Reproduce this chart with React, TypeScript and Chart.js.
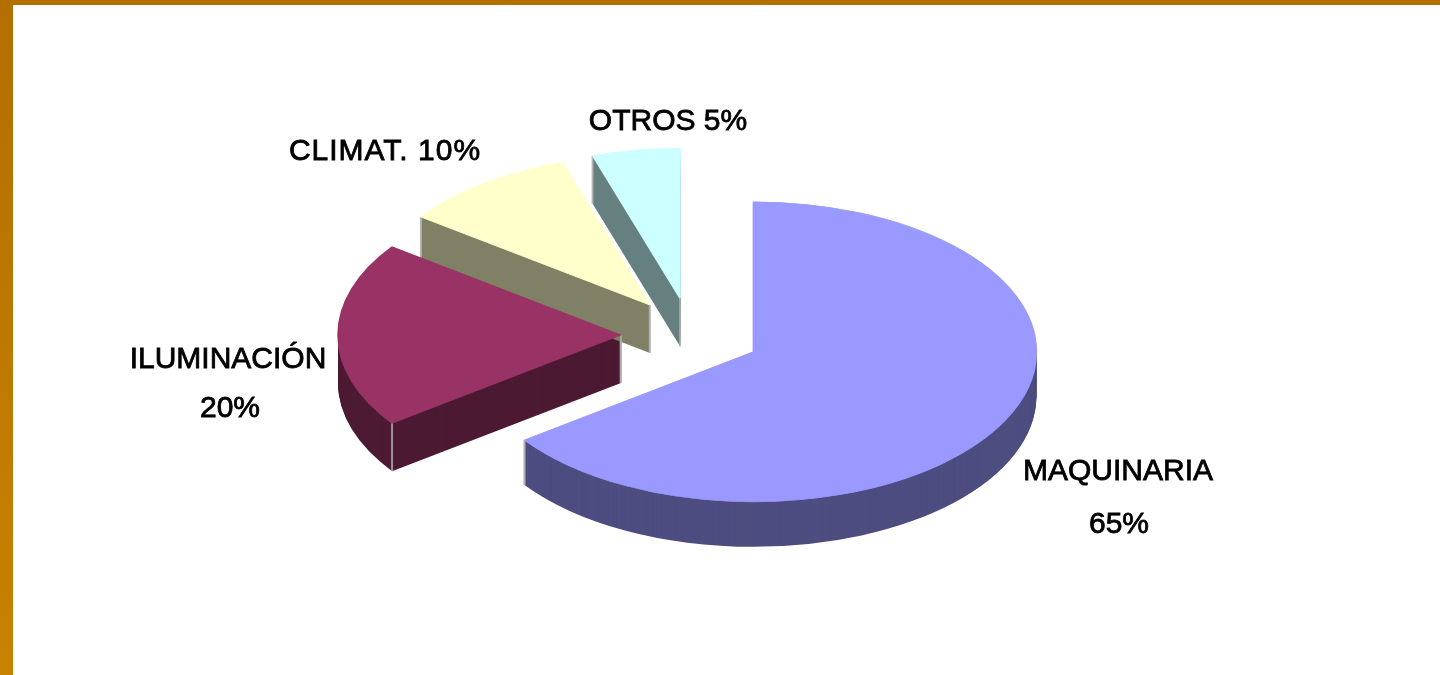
import React, { useEffect, useRef } from "react";
import { Chart, registerables, PieController } from "chart.js";

Chart.register(...registerables);

// Data
const categories = ["MAQUINARIA", "ILUMINACIÓN", "CLIMAT.", "OTROS"];
const shares = [65, 20, 10, 5];
const topColors = ["#9999ff", "#993366", "#ffffcc", "#ccffff"];
const sideColors = ["#4d4d80", "#4d1a33", "#808066", "#668080"];

// Label layout: one entry per category, [text lines] and the centre of each line
const labelLines = [
  ["MAQUINARIA", "65%"],
  ["ILUMINACIÓN", "20%"],
  ["CLIMAT. 10%"],
  ["OTROS 5%"],
];
const labelCentres = [
  [[1118, 472], [1119, 525]],
  [[228, 360], [230, 409]],
  [[385, 152]],
  [[668, 122]],
];
const labelTracking = ["0px", "0px", "1px", "0px"];

// 3D look
const TILT = 0.53;
const sliceDepths = [45, 48, 48, 48];
const EXPLODE = 70;
const RADIUS = 283;
const EDGE = "rgba(170,170,170,0.85)";

class ExplodedPie extends PieController {
  static id = "explodedPie";
  draw() {
    const chart = this.chart;
    const ctx = chart.ctx;
    const arcs = this._cachedMeta.data as any[];
    const place = (arc: any, drop: number) => {
      const mid = (arc.startAngle + arc.endAngle) / 2;
      ctx.translate(arc.x, arc.y + drop);
      ctx.scale(1, TILT);
      ctx.translate(-arc.x, -arc.y);
      ctx.translate(Math.cos(mid) * EXPLODE, Math.sin(mid) * EXPLODE);
    };
    // Extruded sides
    arcs.forEach((arc, i) => {
      for (let d = sliceDepths[i]; d >= 1; d--) {
        ctx.save();
        place(arc, d);
        ctx.beginPath();
        ctx.moveTo(arc.x, arc.y);
        ctx.arc(arc.x, arc.y, arc.outerRadius, arc.startAngle, arc.endAngle);
        ctx.closePath();
        ctx.fillStyle = sideColors[i];
        ctx.fill();
        ctx.restore();
      }
    });
    // Light vertical edges at the corners of each slice, where the slice's own top does not hide them
    arcs.forEach((arc, i) => {
      const depth = sliceDepths[i];
      const mid = (arc.startAngle + arc.endAngle) / 2;
      const half = (arc.endAngle - arc.startAngle) / 2;
      const ox = arc.x + Math.cos(mid) * EXPLODE;
      const oy = arc.y + Math.sin(mid) * EXPLODE * TILT;
      const hidden = (px: number, py: number) => {
        const dx = px - ox;
        const dy = (py - oy) / TILT;
        if (Math.hypot(dx, dy) > arc.outerRadius + 0.5) return false;
        const a = Math.atan2(dy, dx);
        const diff = Math.abs(Math.atan2(Math.sin(a - mid), Math.cos(a - mid)));
        return diff <= half + 0.02;
      };
      const corners = [
        [ox, oy],
        [ox + Math.cos(arc.startAngle) * arc.outerRadius, oy + Math.sin(arc.startAngle) * arc.outerRadius * TILT],
        [ox + Math.cos(arc.endAngle) * arc.outerRadius, oy + Math.sin(arc.endAngle) * arc.outerRadius * TILT],
      ];
      ctx.save();
      ctx.strokeStyle = EDGE;
      ctx.lineWidth = 2;
      corners.forEach(([px, py]) => {
        if (hidden(px, py + depth)) return;
        ctx.beginPath();
        ctx.moveTo(px, py);
        ctx.lineTo(px, py + depth);
        ctx.stroke();
      });
      ctx.restore();
    });
    // Top faces
    arcs.forEach((arc) => {
      ctx.save();
      place(arc, 0);
      arc.draw(ctx);
      ctx.restore();
    });
  }
}
Chart.register(ExplodedPie);

const labelPlugin = {
  id: "sliceLabels",
  afterDatasetsDraw(chart: any) {
    const ctx = chart.ctx;
    ctx.save();
    ctx.fillStyle = "#000";
    ctx.strokeStyle = "#000";
    ctx.lineWidth = 0.8;
    ctx.font = '30px "Liberation Sans", Arial, sans-serif';
    ctx.textAlign = "center";
    ctx.textBaseline = "middle";
    labelLines.forEach((lines, i) => {
      (ctx as any).letterSpacing = labelTracking[i];
      lines.forEach((text, j) => {
        const [x, y] = labelCentres[i][j];
        ctx.fillText(text, x, y);
        ctx.strokeText(text, x, y);
      });
    });
    ctx.restore();
  },
};

export default function App() {
  const ref = useRef<HTMLCanvasElement>(null);
  useEffect(() => {
    const chart = new Chart(ref.current!, {
      type: "explodedPie" as any,
      data: {
        labels: categories,
        datasets: [
          {
            data: shares,
            backgroundColor: topColors,
            borderColor: topColors,
            borderWidth: 1.5,
          },
        ],
      },
      options: {
        animation: false,
        responsive: false,
        radius: RADIUS,
        layout: { padding: { right: 58, bottom: 5 } },
        plugins: { legend: { display: false }, tooltip: { enabled: false }, title: { display: false } },
      } as any,
      plugins: [labelPlugin],
    });
    return () => chart.destroy();
  }, []);
  return (
    <div
      style={{
        position: "fixed",
        left: 0,
        top: 0,
        width: 1440,
        height: 675,
        overflow: "hidden",
        background: "linear-gradient(180deg,#b36f00 0%,#c88200 100%)",
      }}
    >
      <div style={{ position: "absolute", left: 13, top: 5, right: 0, bottom: 0, background: "#fff" }} />
      <canvas
        ref={ref}
        width={1440}
        height={675}
        style={{ position: "absolute", left: 0, top: 0, width: 1440, height: 675, filter: "blur(0.6px)" }}
      />
    </div>
  );
}
